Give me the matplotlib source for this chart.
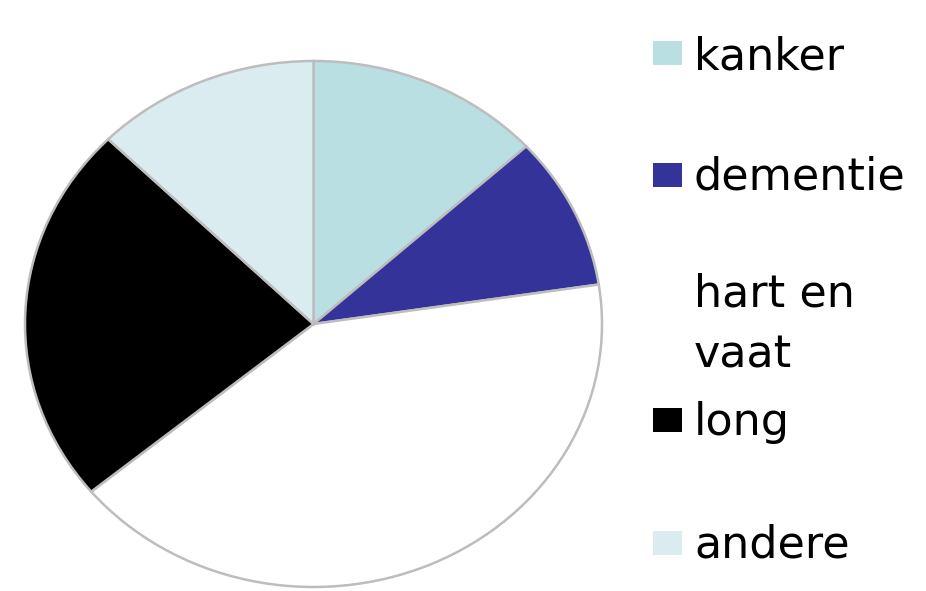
import matplotlib.pyplot as plt
from matplotlib.patches import Rectangle

# Data (share in %)
labels = ['kanker', 'dementie', 'hart en\nvaat', 'long', 'andere']
values = [13.2, 9.4, 41.4, 23.4, 12.6]
colors = ['#b9dfe2', '#333399', '#ffffff', '#000000', '#daecf0']

W, H = 926, 591
fig = plt.figure(figsize=(W / 100, H / 100), dpi=100)
fig.patch.set_facecolor('white')

# pie axes box in pixels (left, top, right, bottom) -> the pie is stretched into an ellipse
pl, pt, pr, pb = 25, 61, 602, 587
ax = fig.add_axes([pl / W, 1 - pb / H, (pr - pl) / W, (pb - pt) / H])
ax.pie(values, colors=colors, startangle=90, counterclock=False,
       wedgeprops=dict(edgecolor='#bdbdbd', linewidth=1.8))
ax.set_aspect('auto')
ax.set_xlim(-1, 1)
ax.set_ylim(-1, 1)
ax.axis('off')

# legend, drawn by hand (pixel positions)
def fy(py):
    return 1 - py / H

box_centers = [53, 175, 297, 420, 543]
text_baselines = [69, 190, 368, 435, 558]  # last line baseline for multi-line label
for lab, col, yc, yb in zip(labels, colors, box_centers, text_baselines):
    if col.lower() != '#ffffff':
        fig.patches.append(Rectangle((653 / W, fy(yc + 12)), 29 / W, 24 / H,
                                     transform=fig.transFigure, facecolor=col,
                                     edgecolor='none'))
    fig.text(694 / W, fy(yb), lab, fontsize=32, family='DejaVu Sans',
             va='baseline', ha='left', color='black', linespacing=1.55)

fig.savefig('out.png', dpi=100, facecolor='white')
